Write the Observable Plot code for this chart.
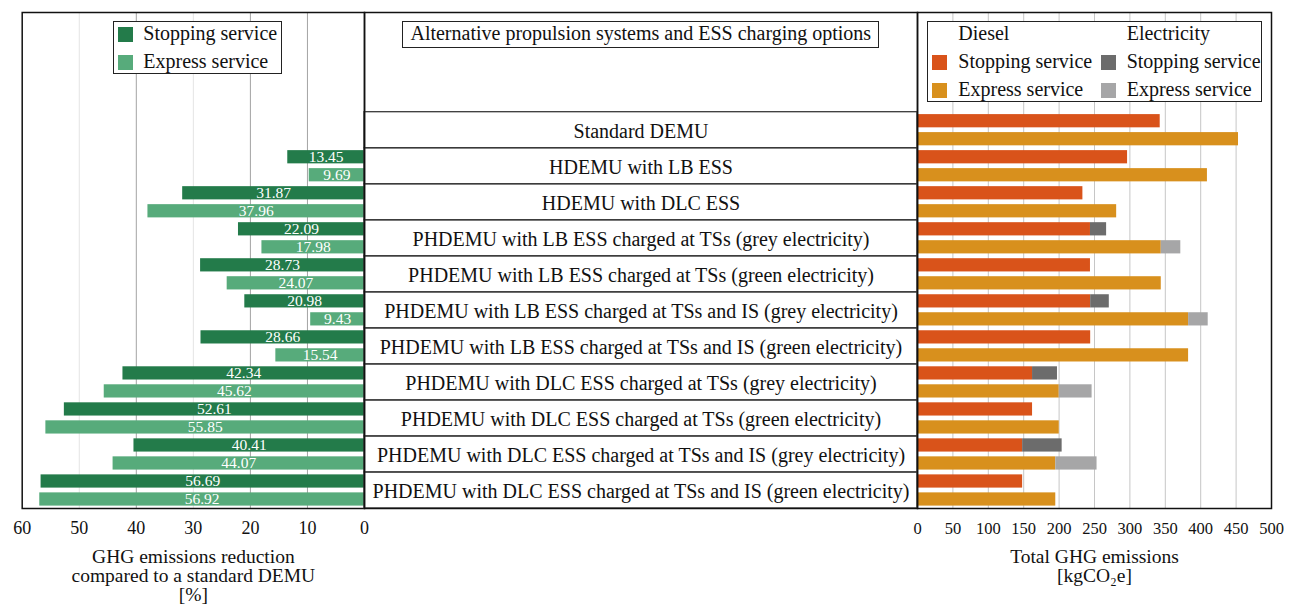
<!DOCTYPE html>
<html><head><meta charset="utf-8">
<script src="https://cdn.jsdelivr.net/npm/d3@7"></script>
<script src="https://cdn.jsdelivr.net/npm/@observablehq/plot@0.6"></script>
<style>
body{margin:0;background:#fff;}
#wrap{position:relative;width:1289px;height:609px;font-family:"Liberation Serif","Times New Roman",serif;color:#111;overflow:hidden;}
#wrap svg{position:absolute;top:0;font-family:"Liberation Serif","Times New Roman",serif !important;background:transparent !important;overflow:visible;}
#wrap svg text{font-family:"Liberation Serif","Times New Roman",serif;}
.box{position:absolute;background:#fff;box-sizing:border-box;}
.lt{position:absolute;font-size:20px;line-height:24px;white-space:nowrap;}
.sw{position:absolute;width:15px;height:15px;}
</style></head><body><div id="wrap"></div><script>
const categories = [
  "Standard DEMU",
  "HDEMU with LB ESS",
  "HDEMU with DLC ESS",
  "PHDEMU with LB ESS charged at TSs (grey electricity)",
  "PHDEMU with LB ESS charged at TSs (green electricity)",
  "PHDEMU with LB ESS charged at TSs and IS (grey electricity)",
  "PHDEMU with LB ESS charged at TSs and IS (green electricity)",
  "PHDEMU with DLC ESS charged at TSs (grey electricity)",
  "PHDEMU with DLC ESS charged at TSs (green electricity)",
  "PHDEMU with DLC ESS charged at TSs and IS (grey electricity)",
  "PHDEMU with DLC ESS charged at TSs and IS (green electricity)"
];
// GHG emissions reduction compared to a standard DEMU [%]
const stopReduction = [null, 13.45, 31.87, 22.09, 28.73, 20.98, 28.66, 42.34, 52.61, 40.41, 56.69];
const expReduction  = [null, 9.69, 37.96, 17.98, 24.07, 9.43, 15.54, 45.62, 55.85, 44.07, 56.92];
// Total GHG emissions [kgCO2e]
const stopDiesel = [342.8, 296.7, 233.6, 244.3, 244.3, 244.6, 244.6, 162.5, 162.5, 148.5, 148.5];
const stopElec   = [0, 0, 0, 22.8, 0, 26.3, 0, 35.2, 0, 55.8, 0];
const expDiesel  = [453.4, 409.5, 281.3, 344.3, 344.3, 382.9, 382.9, 200.2, 200.2, 195.3, 195.3];
const expElec    = [0, 0, 0, 27.6, 0, 27.7, 0, 46.4, 0, 58.3, 0];

const leftTicks = [0, 10, 20, 30, 40, 50, 60];
const rightTicks = [0, 50, 100, 150, 200, 250, 300, 350, 400, 450, 500];
const leftTitle = "GHG emissions reduction\ncompared to a standard DEMU\n[%]";
const rightTitle = "Total GHG emissions\n[kgCO\u2082e]";
const middleTitle = "Alternative propulsion systems and ESS charging options";
const services = ["Stopping service", "Express service"];
const sources = ["Diesel", "Electricity"];

const C = {
  darkGreen: "#237b4a", lightGreen: "#57ab7b",
  dieselStop: "#d9531a", dieselExp: "#d8901d",
  elecStop: "#6c6c6c", elecExp: "#a6a6a7"
};
const FONT = '"Liberation Serif","Times New Roman",serif';
const yBand = {type: "band", domain: categories, range: [111.7, 508], padding: 0, round: false, axis: null};
const svgStyle = {background: "transparent", overflow: "visible", fontFamily: FONT, color: "#111"};

const redStop = categories.map((c, i) => ({cat: c, value: stopReduction[i]})).filter(d => d.value != null);
const redExp = categories.map((c, i) => ({cat: c, value: expReduction[i]})).filter(d => d.value != null);

const keys = ["Diesel stopping", "Electricity stopping", "Diesel express", "Electricity express"];
const stopStack = categories.flatMap((c, i) => [
  {cat: c, key: keys[0], value: stopDiesel[i]},
  {cat: c, key: keys[1], value: stopElec[i]}
]).filter(d => d.value > 0);
const expStack = categories.flatMap((c, i) => [
  {cat: c, key: keys[2], value: expDiesel[i]},
  {cat: c, key: keys[3], value: expElec[i]}
]).filter(d => d.value > 0);

const wrap = document.getElementById("wrap");

const left = Plot.plot({
  width: 368, height: 609, marginLeft: 21.7, marginRight: 4, marginTop: 12, marginBottom: 101,
  style: svgStyle,
  x: {domain: [60, 0]},
  y: yBand,
  marks: [
    Plot.ruleX([10, 20, 40], {stroke: "#a3a3a3"}),
    Plot.ruleX([30, 50], {stroke: "#e4e4e4"}),
    Plot.barX(redStop, {x: "value", y: "cat", fill: C.darkGreen, insetTop: 2.4, insetBottom: 20.4}),
    Plot.barX(redExp, {x: "value", y: "cat", fill: C.lightGreen, insetTop: 20.4, insetBottom: 2.4}),
    Plot.text(redStop, {x: d => d.value / 2, y: "cat", text: d => d.value.toFixed(2), fill: "white", fontSize: 15.5, fontFamily: FONT, dy: -9}),
    Plot.text(redExp, {x: d => d.value / 2, y: "cat", text: d => d.value.toFixed(2), fill: "white", fontSize: 15.5, fontFamily: FONT, dy: 9}),
    Plot.axisX({ticks: leftTicks, tickSize: 0, tickPadding: 12.5, fontSize: 18, fontFamily: FONT, label: null}),
    Plot.text([leftTitle], {frameAnchor: "bottom", lineAnchor: "top", dy: 41.5, fontSize: 19.5, lineHeight: 0.97, fontFamily: FONT, fill: "#111"}),
    Plot.frame({stroke: "#111", strokeWidth: 1.5})
  ]
});
left.style.left = "0px";
wrap.appendChild(left);

const right = Plot.plot({
  width: 376, height: 609, marginLeft: 4, marginRight: 18, marginTop: 12, marginBottom: 101,
  style: svgStyle,
  x: {domain: [0, 500]},
  y: yBand,
  color: {domain: keys, range: [C.dieselStop, C.elecStop, C.dieselExp, C.elecExp]},
  marks: [
    Plot.ruleX(rightTicks.slice(1, -1), {stroke: "#c6c6c6"}),
    Plot.barX(stopStack, Plot.stackX({x: "value", y: "cat", fill: "key", insetTop: 2.4, insetBottom: 20.4})),
    Plot.barX(expStack, Plot.stackX({x: "value", y: "cat", fill: "key", insetTop: 20.4, insetBottom: 2.4})),
    Plot.axisX({ticks: rightTicks, tickSize: 0, tickPadding: 13.9, fontSize: 16.5, fontFamily: FONT, label: null}),
    Plot.text([rightTitle], {frameAnchor: "bottom", lineAnchor: "top", dy: 41.5, fontSize: 19.5, lineHeight: 0.97, fontFamily: FONT, fill: "#111"}),
    Plot.frame({stroke: "#111", strokeWidth: 1.5})
  ]
});
right.style.left = "913px";
wrap.appendChild(right);

const middle = Plot.plot({
  width: 561, height: 609, marginLeft: 4, marginRight: 4, marginTop: 12, marginBottom: 101,
  style: svgStyle,
  y: yBand,
  marks: [
    Plot.cell(categories, {y: d => d, fill: "none", stroke: "#3a3a3a", strokeWidth: 1.3}),
    Plot.text(categories, {y: d => d, frameAnchor: "middle", fontSize: 20, fontFamily: FONT, dy: 1.5, fill: "#111"}),
    Plot.frame({stroke: "#111", strokeWidth: 1.5})
  ]
});
middle.style.left = "360px";
wrap.appendChild(middle);

function el(cls, x, y, w, h, css) {
  const e = document.createElement("div");
  e.className = cls;
  e.style.left = x + "px"; e.style.top = y + "px";
  if (w != null) e.style.width = w + "px";
  if (h != null) e.style.height = h + "px";
  Object.assign(e.style, css || {});
  wrap.appendChild(e);
  return e;
}
function label(text, x, cy) {
  const e = el("lt", x, cy - 12.1);
  e.textContent = text;
}

// middle title box
const tb = el("box", 402.3, 20.7, 477, 27, {border: "1px solid #222", fontSize: "20px", lineHeight: "22px", textAlign: "center", whiteSpace: "nowrap"});
tb.textContent = middleTitle;

// left legend
el("box", 112.7, 20.7, 169, 53.3, {border: "1.5px solid #222"});
el("sw", 118.3, 27.3, 15, 15, {background: C.darkGreen});
el("sw", 118.3, 55, 15, 15, {background: C.lightGreen});
label(services[0], 143.3, 32.9);
label(services[1], 143.3, 61.4);

// right legend
el("box", 926.7, 20.7, 335.6, 81.6, {border: "1.5px solid #222"});
label(sources[0], 958.3, 33.2);
label(sources[1], 1126.7, 33.2);
el("sw", 932.3, 55, 15, 15, {background: C.dieselStop});
el("sw", 932.3, 82.7, 15, 15, {background: C.dieselExp});
el("sw", 1100.7, 55, 15, 15, {background: C.elecStop});
el("sw", 1100.7, 82.7, 15, 15, {background: C.elecExp});
label(services[0], 958.3, 61.2);
label(services[1], 958.3, 89.5);
label(services[0], 1126.7, 61.2);
label(services[1], 1126.7, 89.5);
</script></body></html>
